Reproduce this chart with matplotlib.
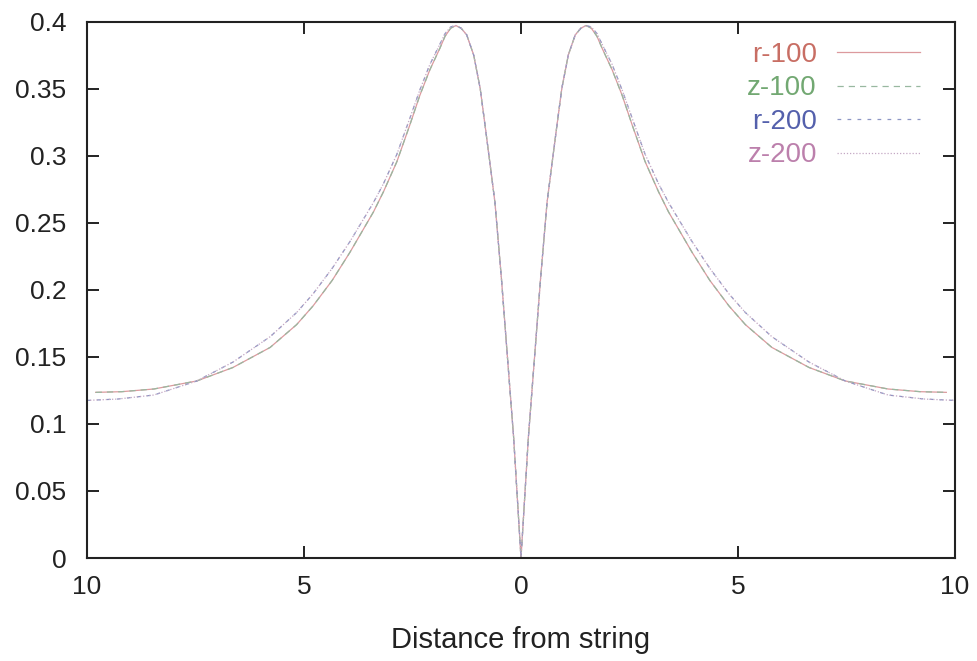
import matplotlib
matplotlib.use("Agg")
import matplotlib.pyplot as plt
import numpy as np

plt.rcParams['font.family'] = ['Liberation Sans', 'DejaVu Sans']

# values, positive side (curves are symmetric about 0)
x_100 = [0.0, 0.17, 0.32, 0.45, 0.6, 0.71, 0.83, 0.94, 1.09, 1.25, 1.38, 1.5,
         1.62, 1.75, 1.87, 2.1, 2.33, 2.56, 2.86, 3.17, 3.4, 3.94, 4.35, 4.79,
         5.17, 5.78, 6.64, 7.47, 8.46, 9.2, 9.8]
r_100 = [0.0, 0.09, 0.153, 0.208, 0.265, 0.293, 0.323, 0.35, 0.375, 0.39, 0.395, 0.397,
         0.395, 0.389, 0.38, 0.364, 0.345, 0.323, 0.2955, 0.273, 0.258, 0.228, 0.207, 0.188,
         0.174, 0.157, 0.142, 0.132, 0.126, 0.124, 0.1235]
z_100 = [0.0, 0.09, 0.153, 0.208, 0.265, 0.293, 0.323, 0.35, 0.375, 0.39, 0.395, 0.397,
         0.395, 0.389, 0.38, 0.364, 0.345, 0.323, 0.2955, 0.273, 0.258, 0.228, 0.207, 0.188,
         0.174, 0.157, 0.142, 0.132, 0.126, 0.124, 0.1235]

x_200 = [0.0, 0.17, 0.32, 0.45, 0.6, 0.71, 0.83, 0.94, 1.09, 1.25, 1.38, 1.5,
         1.62, 1.75, 1.87, 2.1, 2.33, 2.56, 2.86, 3.17, 3.4, 3.94, 4.35, 4.79,
         5.17, 5.78, 6.64, 7.47, 8.46, 9.3, 10.0]
r_200 = [0.0, 0.09, 0.153, 0.208, 0.265, 0.293, 0.323, 0.35, 0.375, 0.39, 0.395, 0.397,
         0.396, 0.391, 0.383, 0.368, 0.349, 0.328, 0.301, 0.279, 0.265, 0.236, 0.216, 0.197,
         0.183, 0.165, 0.146, 0.132, 0.1215, 0.1185, 0.1175]
z_200 = [0.0, 0.09, 0.153, 0.208, 0.265, 0.293, 0.323, 0.35, 0.375, 0.39, 0.395, 0.397,
         0.396, 0.391, 0.383, 0.368, 0.349, 0.328, 0.301, 0.279, 0.265, 0.236, 0.216, 0.197,
         0.183, 0.165, 0.146, 0.132, 0.1215, 0.1185, 0.1175]

x_ticks = [-10, -5, 0, 5, 10]
x_ticklabels = ['10', '5', '0', '5', '10']
y_ticks = [0, 0.05, 0.1, 0.15, 0.2, 0.25, 0.3, 0.35, 0.4]
y_ticklabels = ['0', '0.05', '0.1', '0.15', '0.2', '0.25', '0.3', '0.35', '0.4']


def both_sides(x, y):
    x = np.asarray(x)
    y = np.asarray(y)
    return np.concatenate([-x[:0:-1], x]), np.concatenate([y[:0:-1], y])


fig = plt.figure(figsize=(9.77, 6.61), dpi=100)
ax = fig.add_axes([87/977, 103/661, 868/977, 536.5/661])

# name, x, y, line colour, line style, text colour
series = [
    ('r-100', x_100, r_100, '#dc9a9e', '-', '#c86e64'),
    ('z-100', x_100, z_100, '#98b8a0', (0, (5, 4)), '#72a872'),
    ('r-200', x_200, r_200, '#8c96c4', (0, (3, 5)), '#5460ac'),
    ('z-200', x_200, z_200, '#c4a8c4', (0, (1, 1.5)), '#bc80ac'),
]
for name, xs, ys, col, ls, _ in series:
    xx, yy = both_sides(xs, ys)
    ax.plot(xx, yy, color=col, ls=ls, lw=0.9, label=name)

ax.set_xlim(-10, 10)
ax.set_ylim(0, 0.4)
ax.set_xticks(x_ticks)
ax.set_xticklabels(x_ticklabels)
ax.set_yticks(y_ticks)
ax.set_yticklabels(y_ticklabels)
ax.tick_params(direction='in', length=8.5, width=1.4, labelsize=19,
               top=True, right=True, colors='#222222')
ax.tick_params(axis='y', pad=15)
ax.tick_params(axis='x', pad=12)
for s in ax.spines.values():
    s.set_linewidth(1.5)
    s.set_color('#222222')
ax.set_xlabel('Distance from string', fontsize=21, labelpad=20, color='#222222')

leg = ax.legend(loc='upper right', bbox_to_anchor=(0.96, 0.962), frameon=False,
                markerfirst=False, fontsize=20, handlelength=3.0,
                handletextpad=0.72, labelspacing=0.27, borderpad=0, borderaxespad=0)
for t, s in zip(leg.get_texts(), series):
    t.set_color(s[5])

fig.savefig('out.png', dpi=100)
